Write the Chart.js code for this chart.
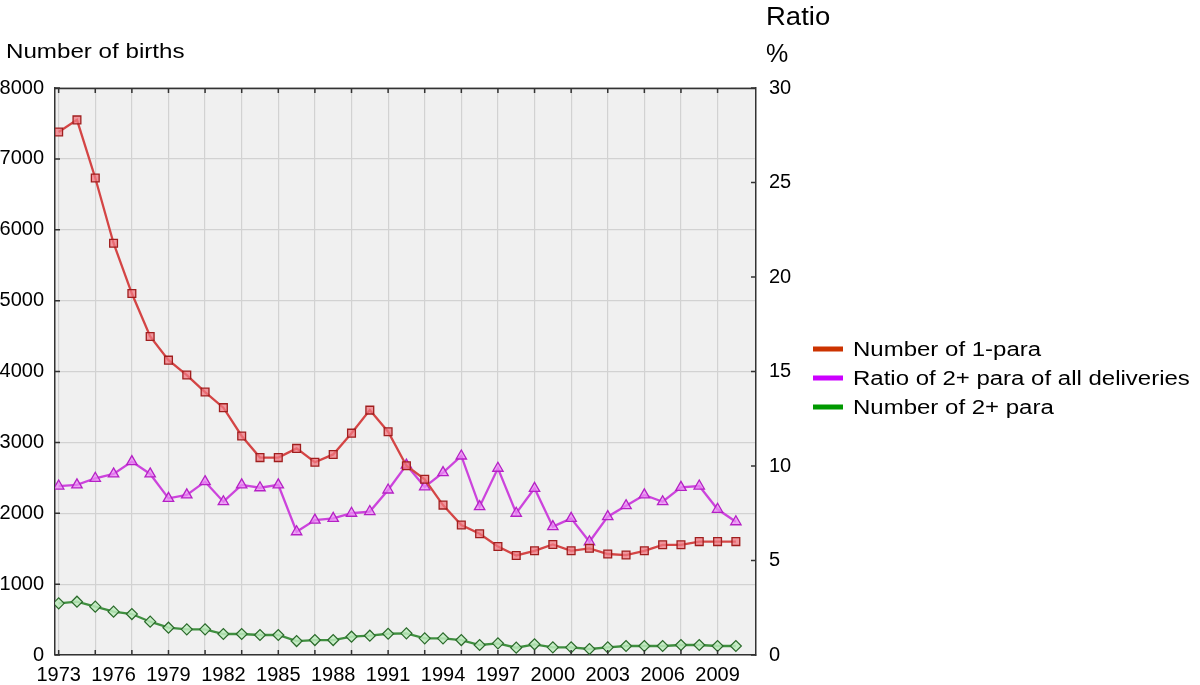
<!DOCTYPE html>
<html>
<head>
<meta charset="utf-8">
<script src="https://cdn.jsdelivr.net/npm/chart.js@4.4.1/dist/chart.umd.min.js"></script>
<style>
html,body{margin:0;padding:0;background:#fff;}
#wrap{width:1200px;height:685px;position:relative;}
</style>
</head>
<body>
<div id="wrap"><canvas id="c"></canvas></div>
<script>
const years = [1973,1974,1975,1976,1977,1978,1979,1980,1981,1982,1983,1984,1985,1986,1987,1988,1989,1990,1991,1992,1993,1994,1995,1996,1997,1998,1999,2000,2001,2002,2003,2004,2005,2006,2007,2008,2009,2010];
const onePara = [7380,7550,6730,5810,5100,4495,4160,3950,3710,3490,3090,2785,2785,2915,2720,2830,3130,3455,3150,2670,2480,2115,1835,1710,1530,1405,1470,1560,1470,1505,1425,1410,1470,1555,1555,1600,1600,1600];
const ratioTwoPlus = [8.94,9.0,9.35,9.58,10.23,9.58,8.29,8.47,9.17,8.11,9.0,8.85,9.0,6.52,7.14,7.23,7.50,7.59,8.73,10.05,8.90,9.65,10.53,7.85,9.88,7.50,8.82,6.79,7.23,5.99,7.32,7.90,8.47,8.11,8.87,8.94,7.71,7.05];
const twoPlus = [729,752,682,611,578,470,385,362,362,296,296,282,282,197,211,211,258,272,300,306,235,235,211,141,165,103,151,108,108,85,108,127,127,127,141,141,127,127];
const leftTicks = [0,1000,2000,3000,4000,5000,6000,7000,8000];
const rightTicks = [0,5,10,15,20,25,30];
const labelEvery = 3, gridEvery = 2;
const seriesNames = ['Number of 1-para','Ratio of 2+ para of all deliveries','Number of 2+ para'];
const legendColors = ['#cc3300','#cc00ff','#009900'];

const FONT = "'Liberation Sans', Arial, Helvetica, sans-serif";

function stretchedText(ctx, text, x, y, size, sx){
  ctx.save();
  ctx.font = size + "px " + FONT;
  ctx.translate(x, y);
  ctx.scale(sx, 1);
  ctx.fillText(text, 0, 0);
  ctx.restore();
}

const decor = {
  id:'decor',
  beforeDraw(chart){
    const {ctx, chartArea:a} = chart;
    ctx.save();
    ctx.fillStyle = '#f0f0f0';
    ctx.fillRect(a.left, a.top, a.right-a.left, a.bottom-a.top);
    ctx.restore();
  },
  afterDraw(chart){
    const {ctx, chartArea:a, scales} = chart;
    ctx.save();
    ctx.strokeStyle = '#333';
    ctx.lineWidth = 1.5;
    ctx.beginPath();
    ctx.moveTo(a.left, a.top+0.5); ctx.lineTo(a.right, a.top+0.5);
    ctx.stroke();
    ctx.beginPath();
    years.forEach(v=>{
      if((v-years[0])%gridEvery===0){
        const x = scales.x.getPixelForValue(v);
        ctx.moveTo(x, a.bottom); ctx.lineTo(x, a.bottom-5);
        ctx.moveTo(x, a.top); ctx.lineTo(x, a.top+5);
      }
    });
    leftTicks.forEach(v=>{
      const y = scales.y.getPixelForValue(v);
      ctx.moveTo(a.left, y); ctx.lineTo(a.left+5, y);
    });
    rightTicks.forEach(v=>{
      const y = scales.y1.getPixelForValue(v);
      ctx.moveTo(a.right, y); ctx.lineTo(a.right-5, y);
    });
    ctx.stroke();
    ctx.fillStyle = '#000';
    ctx.textBaseline = 'alphabetic';
    ctx.textAlign = 'left';
    stretchedText(ctx, 'Number of births', 6, 58, 21, 1.15);
    stretchedText(ctx, 'Ratio', 766, 25, 25, 1.1);
    stretchedText(ctx, '%', 766, 62, 25, 1.0);
    ctx.textBaseline = 'middle';
    seriesNames.forEach((n,i)=>{
      const y = 349 + i*29;
      ctx.fillStyle = legendColors[i];
      ctx.fillRect(813, y-2.5, 30, 5);
      ctx.fillStyle = '#000';
      stretchedText(ctx, n, 853, y+1, 20, 1.2);
    });
    ctx.restore();
  }
};

const pts = arr => years.map((y,i)=>({x:y, y:arr[i]}));

new Chart(document.getElementById('c'), {
  type:'line',
  data:{
    datasets:[
      {label:seriesNames[0], data:pts(onePara), yAxisID:'y', borderColor:'#d44545', borderWidth:2.3,
       pointStyle:'rect', pointRadius:5.5, pointBorderColor:'#a01e1e', pointBackgroundColor:'rgba(240,120,130,0.75)', pointBorderWidth:1.3, tension:0},
      {label:seriesNames[1], data:pts(ratioTwoPlus), yAxisID:'y1', borderColor:'#cc44dc', borderWidth:2.3,
       pointStyle:'triangle', pointRadius:6, pointBorderColor:'#b520c5', pointBackgroundColor:'rgba(235,140,245,0.75)', pointBorderWidth:1.3, tension:0},
      {label:seriesNames[2], data:pts(twoPlus), yAxisID:'y', borderColor:'#3f8f3f', borderWidth:2.3,
       pointStyle:'rectRot', pointRadius:5.5, pointBorderColor:'#2a6a2a', pointBackgroundColor:'rgba(190,235,190,0.85)', pointBorderWidth:1.2, tension:0}
    ]
  },
  options:{
    responsive:true, maintainAspectRatio:false, animation:false,
    layout:{padding:{top:88, right:0, left:0, bottom:0}},
    plugins:{legend:{display:false}, tooltip:{enabled:false}},
    scales:{
      x:{type:'linear', min:1972.8, max:2011.1,
        afterBuildTicks(s){ s.ticks = years.map(v=>({value:v})); },
        afterFit(s){ s.height = 30; },
        ticks:{autoSkip:false, maxRotation:0, padding:8, color:'#000', font:{family:FONT, size:20},
          callback:(v)=> ((v-years[0])%labelEvery===0 ? String(v) : '')},
        grid:{drawTicks:false, color:(c)=> (c.tick && (c.tick.value-years[0])%gridEvery===0 ? '#d2d2d2' : 'rgba(0,0,0,0)'), lineWidth:1.2},
        border:{display:true, color:'#333', width:1.5}
      },
      y:{position:'left', min:0, max:8000,
        afterBuildTicks(s){ s.ticks = leftTicks.map(v=>({value:v})); },
        afterFit(s){ s.width = 55; },
        ticks:{padding:11, color:'#000', font:{family:FONT, size:20}, callback:(v)=>String(v)},
        grid:{drawTicks:false, color:'#d2d2d2', lineWidth:1.2},
        border:{display:true, color:'#333', width:1.5}
      },
      y1:{position:'right', min:0, max:30,
        afterBuildTicks(s){ s.ticks = rightTicks.map(v=>({value:v})); },
        afterFit(s){ s.width = 444; },
        ticks:{padding:13, color:'#000', font:{family:FONT, size:20}, callback:(v)=>String(v)},
        grid:{drawTicks:false, drawOnChartArea:false},
        border:{display:true, color:'#333', width:1.5}
      }
    }
  },
  plugins:[decor]
});
</script>
</body>
</html>
